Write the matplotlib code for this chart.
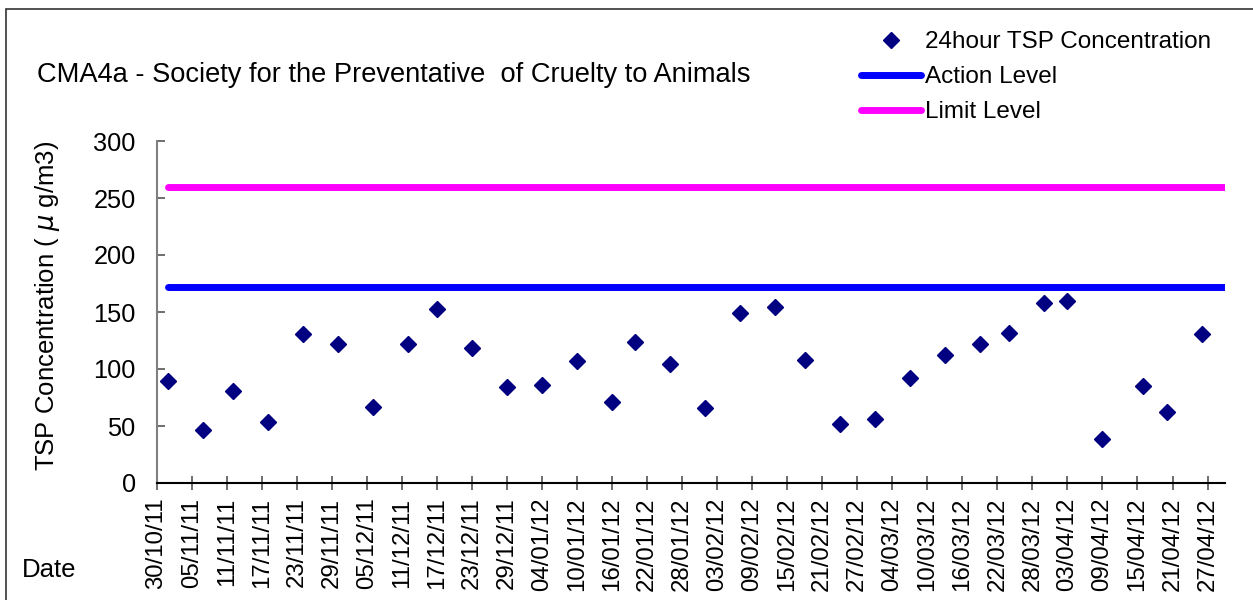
import matplotlib
matplotlib.use('Agg')
import matplotlib.pyplot as plt
import matplotlib.dates as mdates
from matplotlib.patches import Rectangle
import pandas as pd

plt.rcParams['font.family'] = ['Liberation Sans', 'DejaVu Sans']

# 24 hour TSP results (ug/m3)
dates = ['01/11/11', '07/11/11', '12/11/11', '18/11/11', '24/11/11', '30/11/11',
         '06/12/11', '12/12/11', '17/12/11', '23/12/11', '29/12/11', '04/01/12',
         '10/01/12', '16/01/12', '20/01/12', '26/01/12', '01/02/12', '07/02/12',
         '13/02/12', '18/02/12', '24/02/12', '01/03/12', '07/03/12', '13/03/12',
         '19/03/12', '24/03/12', '30/03/12', '03/04/12', '09/04/12', '16/04/12',
         '20/04/12', '26/04/12']
tsp = [89.4, 46.8, 80.8, 53.9, 130.9, 122.1, 67.1, 121.5, 152.3, 118.6, 84.4, 86.1,
       106.9, 70.9, 123.9, 104.6, 65.9, 149.0, 154.1, 107.8, 52.1, 56.0, 92.3, 112.5,
       122.1, 131.5, 157.9, 159.9, 38.9, 85.0, 62.1, 130.3]

level_dates = ['01/11/11', '30/04/12']
action_level = [171.5, 171.5]
limit_level = [260, 260]

x_start = '30/10/11'
x_end = '30/04/12'
tick_dates = pd.date_range('2011-10-30', '2012-04-27', freq='6D')

title = 'CMA4a - Society for the Preventative  of Cruelty to Animals'

x = pd.to_datetime(dates, format='%d/%m/%y')
xl = pd.to_datetime(level_dates, format='%d/%m/%y')

fig = plt.figure(figsize=(12.53, 6.0), dpi=100)
ax = fig.add_axes([0.125, 0.195, 0.8527, 0.57])

# outer chart border
fig.patches.append(Rectangle((6 / 1253, -0.05), 1.2, 1.05 - 9 / 600, transform=fig.transFigure,
                             fill=False, edgecolor='#333333', linewidth=1.2))

pts, = ax.plot(x, tsp, linestyle='none', marker='D', markersize=8.5, color='#000080',
               label='24hour TSP Concentration', zorder=3)
act, = ax.plot(xl, action_level, color='#0000FF', linewidth=5, solid_capstyle='round',
               label='Action Level')
lim, = ax.plot(xl, limit_level, color='#FF00FF', linewidth=5, solid_capstyle='round',
               label='Limit Level')

ax.set_ylim(0, 300)
ax.set_yticks(range(0, 301, 50))
ax.set_xlim(pd.to_datetime(x_start, format='%d/%m/%y'), pd.to_datetime(x_end, format='%d/%m/%y'))
ax.set_xticks(tick_dates)
ax.xaxis.set_major_formatter(mdates.DateFormatter('%d/%m/%y'))

for label in ax.xaxis.get_ticklabels():
    label.set_rotation(90)

ax.spines['top'].set_visible(False)
ax.spines['right'].set_visible(False)
ax.spines['left'].set_color('#808080')
ax.spines['left'].set_linewidth(1.5)
ax.spines['bottom'].set_linewidth(1.5)

ax.tick_params(axis='y', direction='in', length=6, width=1.2, color='#555555', pad=15, labelsize=18.3)
ax.tick_params(axis='x', direction='inout', length=10, width=1.2, color='#555555', pad=5.5, labelsize=17.3)

ax.set_ylabel('TSP Concentration ( $\\mu$ g/m3)', fontsize=18.5)
ax.yaxis.set_label_coords(-0.089, 0.517)

fig.text(37 / 1253, 1 - 75 / 600, title, fontsize=19.6, va='center', ha='left')
fig.text(22 / 1253, 1 - 570 / 600, 'Date', fontsize=18.5, va='center', ha='left')

fig.legend(handles=[pts, act, lim], loc='upper left', bbox_to_anchor=(861 / 1253, 0.948),
           frameon=False, fontsize=17.5, handlelength=2.45, handletextpad=0.17,
           labelspacing=0.54, borderpad=0, borderaxespad=0, numpoints=1)

fig.savefig('out.png', dpi=100)
